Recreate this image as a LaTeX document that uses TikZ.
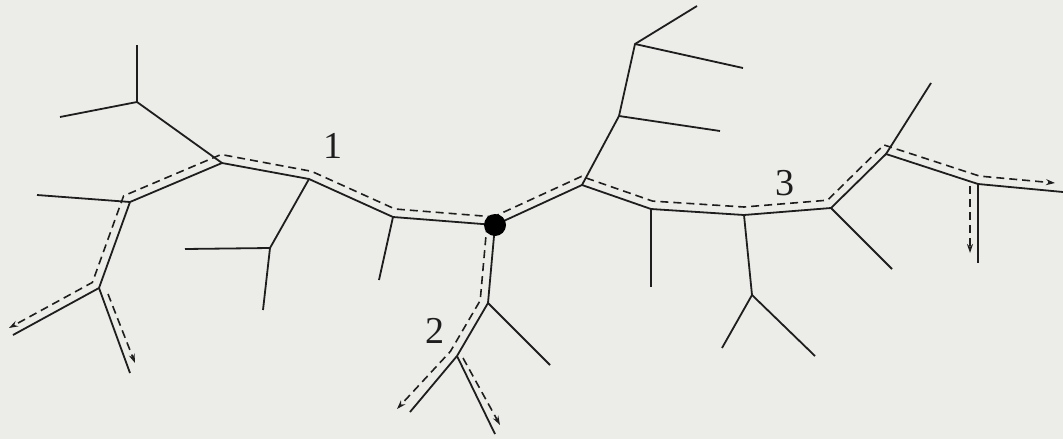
\documentclass[tikz,border=0pt]{standalone}
\usepackage{fontspec}
\setmainfont{Liberation Serif}
\usetikzlibrary{arrows.meta}
\definecolor{bg}{RGB}{236,236,232}
\definecolor{ink}{RGB}{30,30,30}
\begin{document}
\begin{tikzpicture}[x=1pt,y=-1pt,
  edge/.style={draw=ink,line width=1.8pt},
  route/.style={draw=ink,line width=1.6pt,dash pattern=on 8pt off 5pt},
  routearrow/.style={route,-{Stealth[open,length=9pt,width=6pt]}},
  lbl/.style={font=\fontsize{38}{40}\selectfont,text=ink,inner sep=0pt}]
\fill[bg] (0,0) rectangle (1063,439);
\useasboundingbox (0,0) rectangle (1063,439);
% tree vertices
\coordinate (root) at (495,225);
\coordinate (G) at (393,217); \coordinate (Gl) at (379,280);
\coordinate (F) at (309,179);
\coordinate (E) at (270,248); \coordinate (El) at (185,249); \coordinate (Ed) at (263,310);
\coordinate (B) at (222,163);
\coordinate (A) at (137,102); \coordinate (At) at (137,45); \coordinate (Al) at (60,117);
\coordinate (C) at (130,202); \coordinate (Cl) at (37,195);
\coordinate (D) at (99,288); \coordinate (DL) at (13,335); \coordinate (DR) at (130,373);
\coordinate (I) at (488,303); \coordinate (Il) at (550,365);
\coordinate (J) at (457,356); \coordinate (JL) at (410,412); \coordinate (JR) at (495,434);
\coordinate (K) at (582,185);
\coordinate (L) at (619,116); \coordinate (Ll) at (720,131);
\coordinate (M) at (635,44); \coordinate (Mu) at (697,6); \coordinate (Mr) at (743,68);
\coordinate (N) at (651,209); \coordinate (Nd) at (651,287);
\coordinate (O) at (744,215);
\coordinate (P) at (752,295); \coordinate (Pl) at (722,348); \coordinate (Pr) at (815,356);
\coordinate (Q) at (831,208); \coordinate (Ql) at (892,269);
\coordinate (R) at (886,154); \coordinate (Ru) at (931,83);
\coordinate (S) at (978,184); \coordinate (SR) at (1063,192); \coordinate (SD) at (978,263);
% solid tree
\draw[edge] (root) -- (G) -- (F) -- (B) -- (C) -- (D) -- (DL);
\draw[edge] (D) -- (DR);
\draw[edge] (C) -- (Cl);
\draw[edge] (B) -- (A) -- (At);
\draw[edge] (A) -- (Al);
\draw[edge] (F) -- (E) -- (El);
\draw[edge] (E) -- (Ed);
\draw[edge] (G) -- (Gl);
\draw[edge] (root) -- (I) -- (J) -- (JL);
\draw[edge] (I) -- (Il);
\draw[edge] (J) -- (JR);
\draw[edge] (root) -- (K) -- (N) -- (O) -- (Q) -- (R) -- (S) -- (SR);
\draw[edge] (S) -- (SD);
\draw[edge] (R) -- (Ru);
\draw[edge] (Q) -- (Ql);
\draw[edge] (O) -- (P) -- (Pl);
\draw[edge] (P) -- (Pr);
\draw[edge] (N) -- (Nd);
\draw[edge] (K) -- (L) -- (M) -- (Mu);
\draw[edge] (M) -- (Mr);
\draw[edge] (L) -- (Ll);
% dashed route points
\coordinate (p1a) at (495.5,217); \coordinate (p1b) at (395,209);
\coordinate (p1c) at (311.5,171.3); \coordinate (p1d) at (221.1,154.5);
\coordinate (p1e) at (123.6,195.9); \coordinate (p1f) at (92.4,282.4);
\coordinate (p1g) at (9,328); \coordinate (p1h) at (108,294); \coordinate (p1i) at (135,363);
\coordinate (p2a) at (487,224.3); \coordinate (p2b) at (480.2,300.5);
\coordinate (p2c) at (450.4,351.4); \coordinate (p2d) at (397,409);
\coordinate (p2e) at (463,358); \coordinate (p2f) at (500,425);
\coordinate (p3a) at (491.6,217.7); \coordinate (p3b) at (581.5,176.4);
\coordinate (p3c) at (652.6,201.1); \coordinate (p3d) at (743.9,207);
\coordinate (p3e) at (827.5,200.2); \coordinate (p3f) at (883.8,144.9);
\coordinate (p3g) at (979.6,176.1); \coordinate (p3h) at (1055,183);
\coordinate (p3i) at (970,186); \coordinate (p3j) at (970,253);
% dashed routes
\draw[routearrow] (p1a) -- (p1b) -- (p1c) -- (p1d) -- (p1e) -- (p1f) -- (p1g);
\draw[routearrow] (p1h) -- (p1i);
\draw[routearrow] (p2a) -- (p2b) -- (p2c) -- (p2d);
\draw[routearrow] (p2e) -- (p2f);
\draw[routearrow] (p3a) -- (p3b) -- (p3c) -- (p3d) -- (p3e) -- (p3f) -- (p3g) -- (p3h);
\draw[routearrow] (p3i) -- (p3j);
% hub
\node[circle,fill=black,minimum size=22pt,inner sep=0pt] (hub) at (root) {};
% labels
\node[lbl] (l1) at (333,146) {1};
\node[lbl] (l2) at (435,331) {2};
\node[lbl] (l3) at (785,183) {3};
\end{tikzpicture}
\end{document}
